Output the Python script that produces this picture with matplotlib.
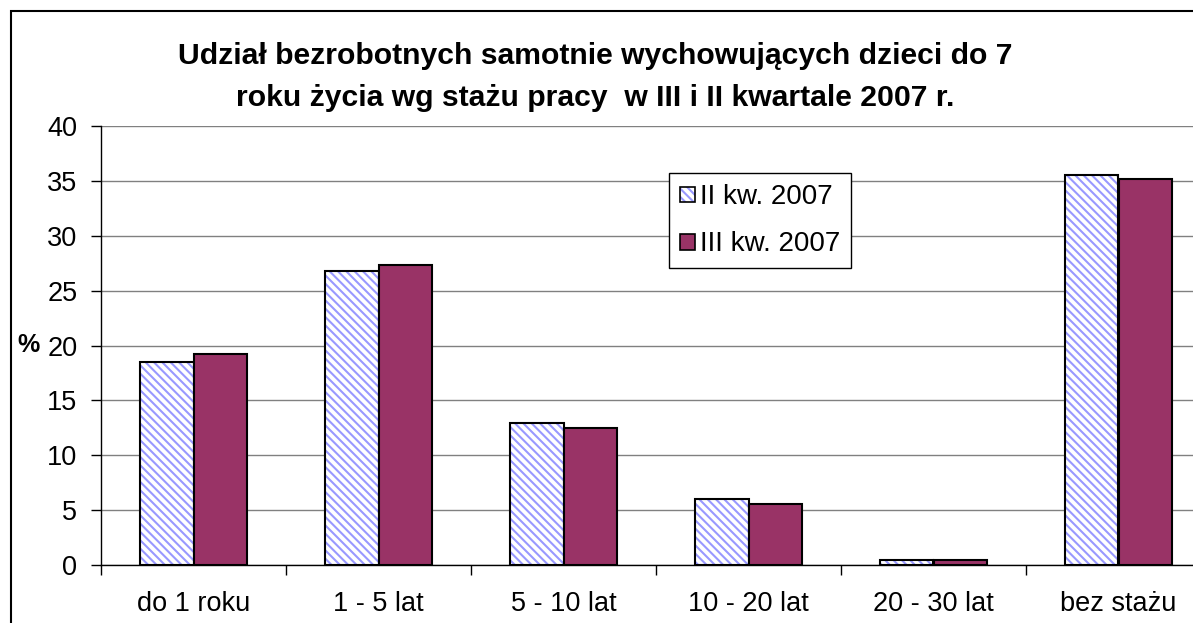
import matplotlib.pyplot as plt
import numpy as np
from matplotlib.patches import Rectangle
from matplotlib.legend_handler import HandlerBase

categories = ['do 1 roku', '1 - 5 lat', '5 - 10 lat', '10 - 20 lat', '20 - 30 lat', 'bez stażu']
q2_2007 = [18.5, 26.8, 12.9, 6.0, 0.5, 35.5]
q3_2007 = [19.2, 27.3, 12.5, 5.6, 0.5, 35.2]
series_labels = ['II kw. 2007', 'III kw. 2007']
y_ticks = [0, 5, 10, 15, 20, 25, 30, 35, 40]
title = 'Udział bezrobotnych samotnie wychowujących dzieci do 7\nroku życia wg stażu pracy  w III i II kwartale 2007 r.'

plt.rcParams['font.family'] = ['Liberation Sans', 'DejaVu Sans']
plt.rcParams['hatch.linewidth'] = 1.5

fig = plt.figure(figsize=(11.93, 6.23), dpi=100)
W, H = 1193, 623
ax = fig.add_axes([101 / W, 1 - 565 / H, 1110 / W, 439 / H])

x = np.arange(len(categories))
w = 0.288
# hatched bars: hatch in light blue first, black outline on top
ax.bar(x - w / 2, q2_2007, w, color='white', edgecolor='#9999ff', hatch='\\\\\\\\', linewidth=0, zorder=3)
ax.bar(x - w / 2, q2_2007, w, fill=False, edgecolor='black', linewidth=1.5, zorder=4)
ax.bar(x + w / 2, q3_2007, w, color='#993366', edgecolor='black', linewidth=1.5, zorder=4)

ax.set_xlim(-0.5, len(categories) - 0.5)
ax.set_ylim(0, 40)
ax.set_yticks(y_ticks)
ax.set_xticks(np.arange(len(categories) + 1) - 0.5)
ax.set_xticklabels([])
ax.set_xticks(x, minor=True)
ax.set_xticklabels(categories, minor=True, fontsize=19.5)
ax.tick_params(axis='x', which='minor', length=0, pad=19)
ax.tick_params(axis='x', which='major', length=7, width=1, direction='out')
ax.tick_params(axis='y', length=7, width=1, labelsize=19.5, pad=10)
ax.yaxis.grid(True, color='#808080', linewidth=1)
ax.set_axisbelow(True)
for s in ['top', 'right']:
    ax.spines[s].set_visible(False)
ax.spines['left'].set_linewidth(1)
ax.spines['bottom'].set_linewidth(1)

fig.text(28 / W, 1 - 345 / H, '%', fontsize=18, fontweight='bold', ha='center', va='center')

fig.text(595 / W, 1 - 77 / H, title, ha='center', va='center', fontsize=21.7, fontweight='bold',
         linespacing=1.62)

h1 = Rectangle((0, 0), 1, 1)
h2 = Rectangle((0, 0), 1, 1)


class HatchHandler(HandlerBase):
    def create_artists(self, legend, orig, xd, yd, width, height, fontsize, trans):
        s = min(width, height)
        r1 = Rectangle((-xd, -yd), s, s, facecolor='white', edgecolor='#9999ff', hatch='\\\\\\\\',
                       linewidth=0, transform=trans)
        r2 = Rectangle((-xd, -yd), s, s, fill=False, edgecolor='black', linewidth=1.2, transform=trans)
        return [r1, r2]


class SolidHandler(HandlerBase):
    def create_artists(self, legend, orig, xd, yd, width, height, fontsize, trans):
        s = min(width, height)
        r = Rectangle((-xd, -yd), s, s, facecolor='#993366', edgecolor='black', linewidth=1.2,
                      transform=trans)
        return [r]


leg = ax.legend([h1, h2], series_labels, loc='upper left', bbox_to_anchor=(669 / W, 1 - 173 / H),
                bbox_transform=fig.transFigure, fontsize=20, frameon=True, fancybox=False,
                edgecolor='black', framealpha=1, handlelength=0.55, handleheight=0.55,
                handletextpad=0.2, labelspacing=0.78, borderpad=0.38, borderaxespad=0,
                handler_map={h1: HatchHandler(), h2: SolidHandler()})
leg.get_frame().set_linewidth(1)

fig.patches.append(Rectangle((11 / W, -0.1), 1.2, 1 - 11 / H + 0.1, transform=fig.transFigure,
                             fill=False, edgecolor='black', linewidth=1.5))

fig.savefig('out.png', dpi=100)
